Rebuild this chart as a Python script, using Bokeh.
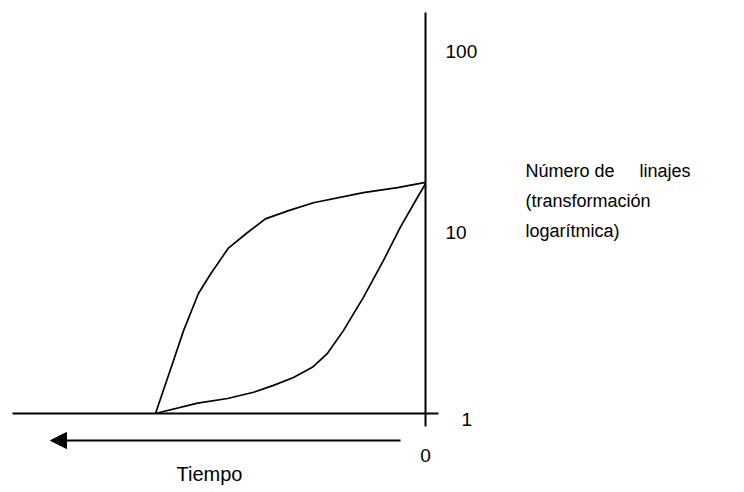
from bokeh.plotting import figure
from bokeh.models import Range1d, Arrow, NormalHead
from bokeh.core.properties import value
from bokeh.embed import file_html
from bokeh.resources import INLINE

# ---- data ----
time_upper = [10, 9.37, 8.96, 8.41, 7.96, 7.30, 6.59, 5.93, 5.07, 4.15, 2.30, 1.04, 0]
lineages_upper = [1.0, 1.89, 2.87, 4.6, 5.9, 8.2, 10.0, 11.9, 13.2, 14.6, 16.6, 17.7, 18.9]
time_lower = [10, 8.44, 7.33, 6.37, 5.63, 4.89, 4.19, 3.63, 3.04, 2.30, 1.56, 0.93, 0.30, 0]
lineages_lower = [1.0, 1.14, 1.21, 1.31, 1.43, 1.58, 1.80, 2.15, 2.87, 4.38, 7.0, 10.7, 15.6, 18.6]
y_ticks = [1, 10, 100]
y_tick_labels = ["1", "10", "100"]
x_ticks = [0]
x_tick_labels = ["0"]
y_title = ["Número de\u00a0\u00a0\u00a0\u00a0 linajes", "(transformación", "logarítmica)"]
x_title = "Tiempo"

# ---- layout (pixel geometry of the page) ----
W, H = 744, 492
X0, PX_PER_T = 425, 27          # x pixel of time 0, pixels per time unit
Y1, PX_PER_DEC = 413, 181       # y pixel of value 1, pixels per decade


def tx(px):
    return (X0 - px) / PX_PER_T


def vy(py):
    return 10 ** ((Y1 - py) / PX_PER_DEC)


FONT = value("Liberation Sans")

p = figure(width=W, height=H, x_range=Range1d(tx(0), tx(W)), y_range=Range1d(vy(H), vy(0)),
           y_axis_type="log", x_axis_location=None, y_axis_location=None,
           toolbar_location=None, output_backend="svg", min_border=0)
p.grid.visible = False
p.outline_line_color = None
p.background_fill_color = "white"
p.border_fill_color = "white"

# axes drawn as lines
p.segment(x0=[tx(12)], y0=[y_ticks[0]], x1=[tx(438)], y1=[y_ticks[0]], line_color="black", line_width=2)
p.segment(x0=[x_ticks[0]], y0=[vy(426)], x1=[x_ticks[0]], y1=[vy(12)], line_color="black", line_width=2)

# curves
p.line(time_upper, lineages_upper, line_color="black", line_width=1.7)
p.line(time_lower, lineages_lower, line_color="black", line_width=1.7)

# tick labels ("1" sits a little right of and below the others)
p.text(x=[tx(461), tx(445), tx(445)], y=y_ticks, text=y_tick_labels, text_align="left",
       text_baseline="middle", text_font=FONT, text_font_size="19px", text_color="black",
       y_offset=[6, 0, 0])
p.text(x=x_ticks, y=[vy(455)], text=x_tick_labels, text_align="center", text_baseline="middle",
       text_font=FONT, text_font_size="19px", text_color="black")

# arrow and time title
p.add_layout(Arrow(end=NormalHead(size=16, fill_color="black", line_color="black"),
                   x_start=tx(400), y_start=vy(440), x_end=tx(50), y_end=vy(440),
                   line_color="black", line_width=2))
p.text(x=[tx(209)], y=[vy(473)], text=[x_title], text_align="center", text_baseline="middle",
       text_font=FONT, text_font_size="20px", text_color="black")

# y title, three lines
p.text(x=[tx(525)] * 3, y=[vy(170), vy(200), vy(230)], text=y_title, text_align="left",
       text_baseline="middle", text_font=FONT, text_font_size="18px", text_color="black")

open("out.html", "w").write(file_html(p, INLINE))
